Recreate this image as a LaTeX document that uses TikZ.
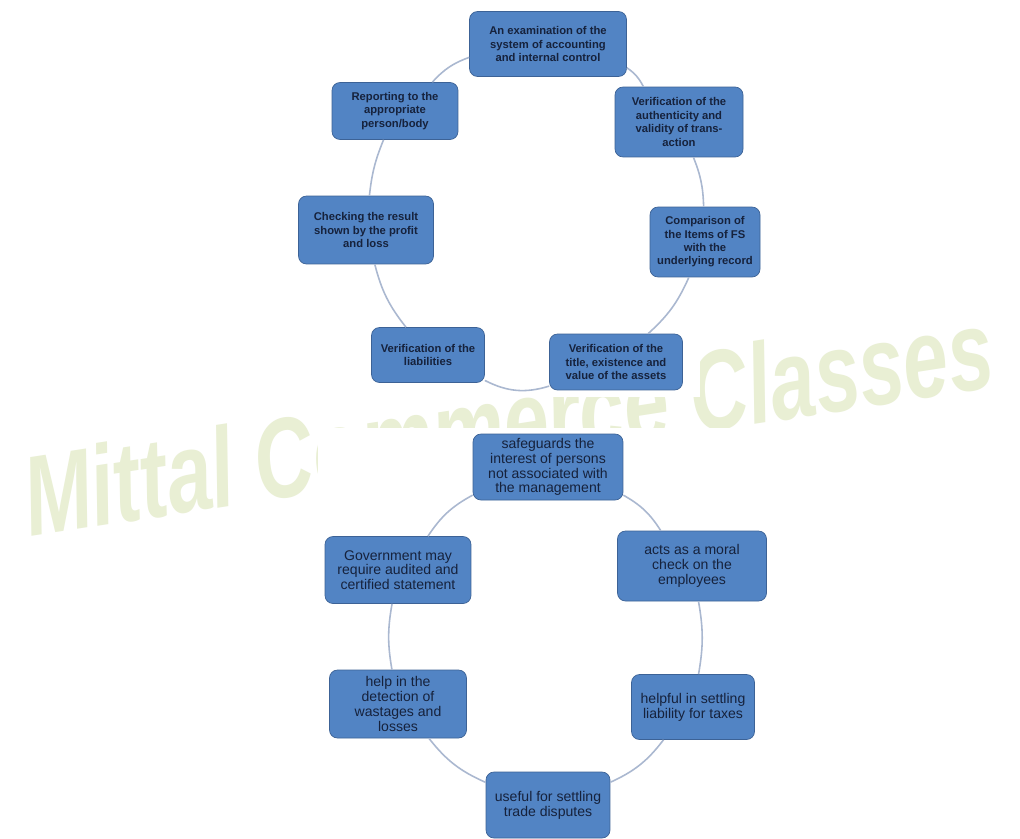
\documentclass[tikz,border=0pt]{standalone}
\usepackage{fontspec}
\setmainfont{Liberation Sans}
\usepackage{xcolor}
\usepackage{tikz}
\usetikzlibrary{calc}
\definecolor{boxblue}{RGB}{82,132,196}
\definecolor{boxedge}{RGB}{60,98,150}
\definecolor{boxtext}{RGB}{22,34,60}
\definecolor{ringline}{RGB}{170,184,208}
\definecolor{markgreen}{RGB}{233,239,212}

\begin{document}
\begin{tikzpicture}[x=0.02cm,y=-0.02cm,
    stage/.style={draw=boxedge,line width=0.4pt,fill=boxblue,rounded corners=0.16cm,
        text=boxtext,align=center,inner sep=1pt,font=\fontsize{6.4}{7.6}\selectfont\bfseries},
    merit/.style={stage,font=\fontsize{8}{8.4}\selectfont},
    ring/.style={draw=ringline,line width=0.9pt}]
    % Frame
    \useasboundingbox (0,0) rectangle (1020,838);
    \fill[white] (0,0) rectangle (1020,838);

    % Watermark, partly hidden by the two diagrams
    \node[anchor=base,rotate=8.8,xscale=1.07,yscale=1.5,text=markgreen,
        font=\fontsize{43}{43}\selectfont\bfseries\itshape] (mark) at (514,462)
        {Mittal Commerce Classes};
    \fill[white] (290,0) rectangle (700,397);
    \fill[white] (318,428) rectangle (780,838);

    % Procedure cycle
    \node[stage,minimum width=3.14cm,minimum height=1.3cm] (exam) at (548,44)
        {An examination of the\\system of accounting\\and internal control};
    \node[stage,minimum width=2.56cm,minimum height=1.4cm] (auth) at (679,122)
        {Verification of the\\authenticity and\\validity of trans-\\action};
    \node[stage,minimum width=2.2cm,minimum height=1.4cm] (comp) at (705,242)
        {Comparison of\\the Items of FS\\with the\\underlying record};
    \node[stage,minimum width=2.66cm,minimum height=1.12cm] (assets) at (616,362)
        {Verification of the\\title, existence and\\value of the assets};
    \node[stage,minimum width=2.26cm,minimum height=1.1cm] (liab) at (428,355)
        {Verification of the\\liabilities};
    \node[stage,minimum width=2.7cm,minimum height=1.36cm] (result) at (366,230)
        {Checking the result\\shown by the profit\\and loss};
    \node[stage,minimum width=2.52cm,minimum height=1.14cm] (report) at (395,111)
        {Reporting to the\\appropriate\\person/body};

    \draw[ring] (exam) to[bend left=14] (auth);
    \draw[ring] (auth) to[bend left=10] (comp);
    \draw[ring] (comp) to[bend left=12] (assets);
    \draw[ring] (assets) to[bend left=22] (liab);
    \draw[ring] (liab) to[bend left=12] (result);
    \draw[ring] (result) to[bend left=8] (report);
    \draw[ring] (report) to[bend left=14] (exam);

    % Advantages cycle
    \node[merit,minimum width=3.0cm,minimum height=1.32cm] (safe) at (548,467)
        {safeguards the\\interest of persons\\not associated with\\the management};
    \node[merit,minimum width=2.98cm,minimum height=1.4cm] (moral) at (692,566)
        {acts as a moral\\check on the\\employees};
    \node[merit,minimum width=2.46cm,minimum height=1.3cm] (taxes) at (693,707)
        {helpful in settling\\liability for taxes};
    \node[merit,minimum width=2.48cm,minimum height=1.32cm] (trade) at (548,805)
        {useful for settling\\trade disputes};
    \node[merit,minimum width=2.74cm,minimum height=1.36cm] (waste) at (398,704)
        {help in the\\detection of\\wastages and\\losses};
    \node[merit,minimum width=2.92cm,minimum height=1.34cm] (govt) at (398,570)
        {Government may\\require audited and\\certified statement};

    \draw[ring] (safe) to[bend left=14] (moral);
    \draw[ring] (moral) to[bend left=10] (taxes);
    \draw[ring] (taxes) to[bend left=14] (trade);
    \draw[ring] (trade) to[bend left=14] (waste);
    \draw[ring] (waste) to[bend left=10] (govt);
    \draw[ring] (govt) to[bend left=14] (safe);
\end{tikzpicture}
\end{document}
